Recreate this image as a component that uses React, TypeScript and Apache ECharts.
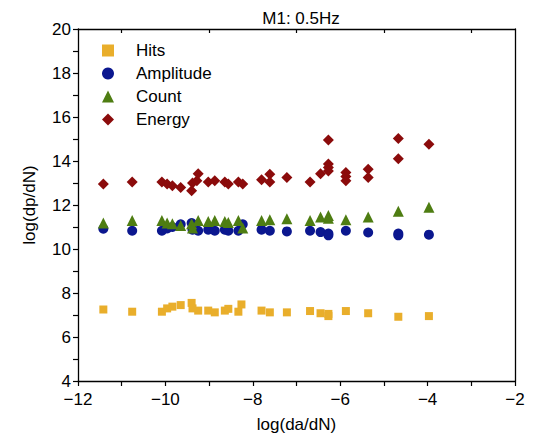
import React, { useEffect, useRef } from "react";
import * as echarts from "echarts";

const titleText = "M1: 0.5Hz";
const seriesNames = ["Hits", "Amplitude", "Count", "Energy"];

const hitsX = [-11.42, -10.76, -10.08, -9.96, -9.84, -9.65, -9.4, -9.38, -9.25, -9.02, -8.87, -8.64, -8.56, -8.33, -8.26, -7.8, -7.61, -7.22, -6.69, -6.45, -6.27, -6.27, -5.87, -5.36, -4.67, -3.97];
const hitsY = [7.25, 7.15, 7.15, 7.3, 7.38, 7.45, 7.55, 7.3, 7.2, 7.2, 7.12, 7.2, 7.28, 7.15, 7.48, 7.2, 7.12, 7.12, 7.18, 7.08, 7.05, 6.95, 7.18, 7.08, 6.92, 6.95];

const ampX = [-11.42, -10.76, -10.08, -9.96, -9.84, -9.65, -9.4, -9.38, -9.25, -9.02, -8.87, -8.64, -8.56, -8.33, -8.23, -7.8, -7.61, -7.22, -6.69, -6.45, -6.27, -6.27, -5.87, -5.36, -4.67, -4.67, -3.97];
const ampY = [10.92, 10.83, 10.83, 10.93, 11.0, 11.12, 11.18, 10.88, 10.83, 10.88, 10.83, 10.88, 10.83, 10.83, 11.12, 10.88, 10.83, 10.8, 10.83, 10.77, 10.7, 10.62, 10.83, 10.75, 10.7, 10.62, 10.65];

const countX = [-11.42, -10.76, -10.08, -9.96, -9.84, -9.65, -9.4, -9.38, -9.25, -9.02, -8.87, -8.64, -8.56, -8.33, -8.23, -7.8, -7.61, -7.22, -6.69, -6.45, -6.27, -6.27, -5.87, -5.36, -4.67, -3.97];
const countY = [11.18, 11.3, 11.3, 11.18, 11.15, 11.07, 11.15, 10.95, 11.3, 11.25, 11.3, 11.25, 11.2, 11.3, 10.95, 11.3, 11.33, 11.38, 11.3, 11.45, 11.52, 11.4, 11.33, 11.45, 11.72, 11.9];

const energyX = [-11.42, -10.76, -10.08, -9.96, -9.84, -9.65, -9.4, -9.38, -9.28, -9.25, -9.02, -8.87, -8.64, -8.56, -8.33, -8.23, -7.8, -7.61, -7.61, -7.22, -6.69, -6.45, -6.27, -6.27, -6.27, -6.27, -5.87, -5.87, -5.87, -5.36, -5.36, -4.67, -4.67, -3.97];
const energyY = [12.95, 13.05, 13.05, 12.95, 12.88, 12.8, 12.65, 13.0, 13.1, 13.42, 13.05, 13.1, 13.05, 12.95, 13.05, 12.95, 13.15, 13.4, 13.05, 13.25, 13.05, 13.42, 14.95, 13.86, 13.7, 13.55, 13.48, 13.3, 13.1, 13.62, 13.25, 15.02, 14.1, 14.76];

const xTicks = { min: -12, max: -2, interval: 2 };
const yTicks = { min: 4, max: 20, interval: 2 };

const colors = ["#E9AE2B", "#0B178F", "#4E7D12", "#8B0B0B"];
const symbols = ["rect", "circle", "triangle", "diamond"];
const sizes = [8, 10, 11, 11];

const zip = (xs: number[], ys: number[]) => xs.map((x, i) => [x, ys[i]]);

export default function App() {
  const ref = useRef<HTMLDivElement>(null);
  useEffect(() => {
    document.body.style.margin = "0";
    const chart = echarts.init(ref.current!, undefined, { renderer: "svg" });
    const font = "Liberation Sans, Arial, sans-serif";
    const axisLine = { show: true, lineStyle: { color: "#000", width: 1.3 } };
    const tickStyle = { color: "#000", width: 1.2 };
    const datasets = [zip(hitsX, hitsY), zip(ampX, ampY), zip(countX, countY), zip(energyX, energyY)];
    chart.setOption({
      animation: false,
      textStyle: { fontFamily: font },
      title: {
        text: titleText,
        left: 296,
        textAlign: "center",
        top: 5,
        textStyle: { fontSize: 17, fontWeight: "normal", color: "#000", fontFamily: font },
      },
      legend: {
        orient: "vertical",
        left: 97,
        top: 37,
        itemWidth: 12,
        itemHeight: 12,
        itemGap: 6,
        textStyle: { fontSize: 17, color: "#000", fontFamily: font, padding: [0, 0, 0, 17] },
        data: seriesNames,
      },
      grid: { left: 78, right: 18, top: 29, bottom: 56.5, containLabel: false },
      xAxis: [
        {
          type: "value",
          min: xTicks.min,
          max: xTicks.max,
          interval: xTicks.interval,
          name: "log(da/dN)",
          nameLocation: "middle",
          nameGap: 35,
          nameTextStyle: { fontSize: 17, color: "#000", fontFamily: font },
          axisLine,
          axisTick: { show: true, length: 5, lineStyle: tickStyle },
          minorTick: { show: true, splitNumber: 2, length: 5, lineStyle: tickStyle },
          axisLabel: { fontSize: 17, color: "#000", margin: 10, fontFamily: font, formatter: (v: number) => String(v).replace("-", "\u2212") },
          splitLine: { show: false },
        },
        {
          type: "value",
          position: "top",
          min: xTicks.min,
          max: xTicks.max,
          interval: xTicks.interval,
          axisLine,
          axisTick: { show: true, inside: true, length: 0, lineStyle: tickStyle },
          minorTick: { show: true, splitNumber: 2, length: 4, lineStyle: tickStyle },
          axisLabel: { show: false },
          splitLine: { show: false },
        },
      ],
      yAxis: [
        {
          type: "value",
          min: yTicks.min,
          max: yTicks.max,
          interval: yTicks.interval,
          name: "log(dp/dN)",
          nameLocation: "middle",
          nameGap: 40,
          nameTextStyle: { fontSize: 17, color: "#000", fontFamily: font },
          axisLine,
          axisTick: { show: true, length: 5, lineStyle: tickStyle },
          minorTick: { show: true, splitNumber: 2, length: 5, lineStyle: tickStyle },
          axisLabel: { fontSize: 17, color: "#000", margin: 7, fontFamily: font },
          splitLine: { show: false },
        },
        {
          type: "value",
          position: "right",
          min: yTicks.min,
          max: yTicks.max,
          interval: yTicks.interval,
          axisLine,
          axisTick: { show: false },
          minorTick: { show: false },
          axisLabel: { show: false },
          splitLine: { show: false },
        },
      ],
      series: seriesNames.map((name, i) => ({
        name,
        type: "scatter",
        xAxisIndex: 0,
        yAxisIndex: 0,
        symbol: symbols[i],
        symbolSize: sizes[i],
        itemStyle: { color: colors[i], opacity: 1 },
        data: datasets[i],
      })),
    });
    return () => chart.dispose();
  }, []);
  return <div ref={ref} style={{ width: 533, height: 438 }} />;
}
